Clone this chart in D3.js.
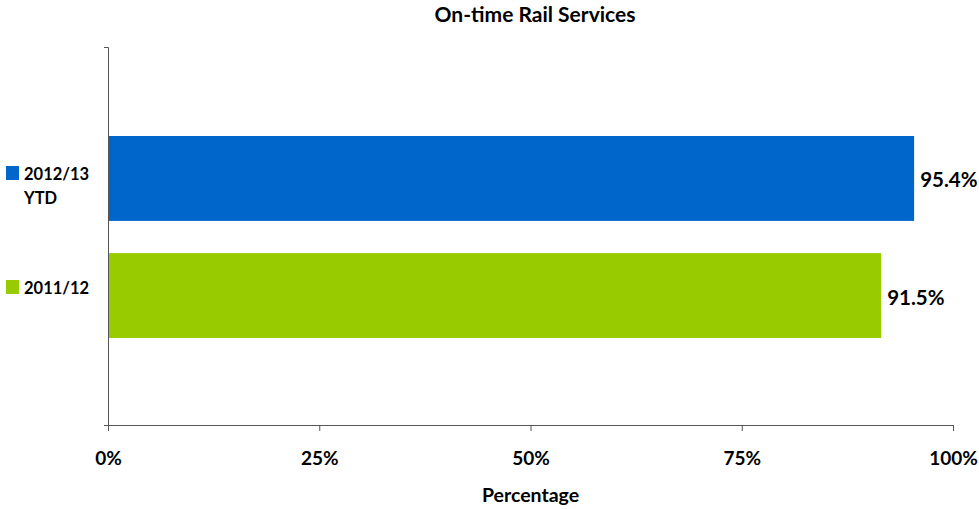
<!DOCTYPE html>
<html lang="en">
  <head>
    <meta charset="utf-8"/>
    <script src="https://d3js.org/d3.v7.min.js"></script>
    <title>On-time Rail Services</title>
  </head>
  <body style="margin:0;background:#fff">
    <svg id="chart"></svg>
  </body>
</html>

<script>
  const width = 979;
  const height = 509;
  const margin = {top: 47, right: 26, bottom: 84, left: 108};

  // data
  const category = ["On-time"];
  const seriesNames = ["2012/13 YTD", "2011/12"];
  const seriesValues = [0.954, 0.915];
  const seriesColors = ["#0066CC", "#99CC00"];
  const xTicks = [0, 0.25, 0.5, 0.75, 1];

  const font = "Lato, 'Open Sans', sans-serif";

  const svg = d3.select("#chart")
    .attr("width", width)
    .attr("height", height)
    .style("font-family", font);

  const x = d3.scaleLinear()
    .domain([0, 1])
    .range([margin.left, width - margin.right]);

  const y0 = d3.scaleBand()
    .domain(category)
    .range([margin.top, height - margin.bottom]);

  // two series inside the one category
  const y1 = d3.scaleBand()
    .domain(seriesNames)
    .range([y0("On-time") + 89, y0("On-time") + y0.bandwidth() - 87])
    .paddingInner(0.275);

  svg.append("text")
    .attr("x", 535)
    .attr("y", 22)
    .attr("text-anchor", "middle")
    .style("font-size", "21px")
    .style("font-weight", "bold")
    .text("On-time Rail Services");

  // bars
  svg.append("g").selectAll("rect")
    .data(seriesNames)
    .join("rect")
    .attr("x", x(0))
    .attr("y", d => y1(d))
    .attr("width", (d, i) => x(seriesValues[i]) - x(0))
    .attr("height", y1.bandwidth())
    .attr("fill", (d, i) => seriesColors[i]);

  // value labels
  svg.append("g").selectAll("text")
    .data(seriesNames)
    .join("text")
    .attr("x", (d, i) => x(seriesValues[i]) + 6)
    .attr("y", d => y1(d) + y1.bandwidth() / 2 + 9)
    .style("font-size", "20.5px")
    .style("font-weight", "bold")
    .text((d, i) => d3.format(".1%")(seriesValues[i]));

  // x axis
  const xAxis = svg.append("g")
    .attr("transform", "translate(0," + (height - margin.bottom) + ")")
    .call(d3.axisBottom(x).tickValues(xTicks).tickFormat(d3.format(".0%")).tickSize(6).tickSizeOuter(0));
  xAxis.select(".domain").attr("d", "M" + (x(0) - 4) + ",0.5H" + x(1)).attr("stroke", "#555");
  xAxis.selectAll(".tick line").attr("stroke", "#555");
  xAxis.selectAll(".tick text")
    .attr("y", 27)
    .style("font-size", "19px")
    .style("font-weight", "bold")
    .style("font-family", font)
    .attr("fill", "#000");

  // y axis (category axis, no labels)
  const yAxis = svg.append("g")
    .attr("transform", "translate(" + margin.left + ",0)")
    .call(d3.axisLeft(y0).tickValues([]).tickSizeOuter(4));
  yAxis.select(".domain").attr("stroke", "#555");

  svg.append("text")
    .attr("x", x(0.5))
    .attr("y", 502)
    .attr("text-anchor", "middle")
    .style("font-size", "19.5px")
    .style("font-weight", "bold")
    .text("Percentage");

  // legend on the left
  const legendY = [166, 280];
  const legendLines = [["2012/13", "YTD"], ["2011/12"]];
  const legend = svg.append("g").selectAll("g")
    .data(seriesNames)
    .join("g")
    .attr("transform", (d, i) => "translate(6," + legendY[i] + ")");

  legend.append("rect")
    .attr("width", 13)
    .attr("height", 14)
    .attr("fill", (d, i) => seriesColors[i]);

  legend.append("text")
    .attr("x", 18)
    .attr("y", 14)
    .style("font-size", "16.5px")
    .style("font-weight", "bold")
    .selectAll("tspan")
    .data((d, i) => legendLines[i])
    .join("tspan")
    .attr("x", 18)
    .attr("dy", (d, j) => j === 0 ? 0 : 24)
    .text(d => d);
</script>
